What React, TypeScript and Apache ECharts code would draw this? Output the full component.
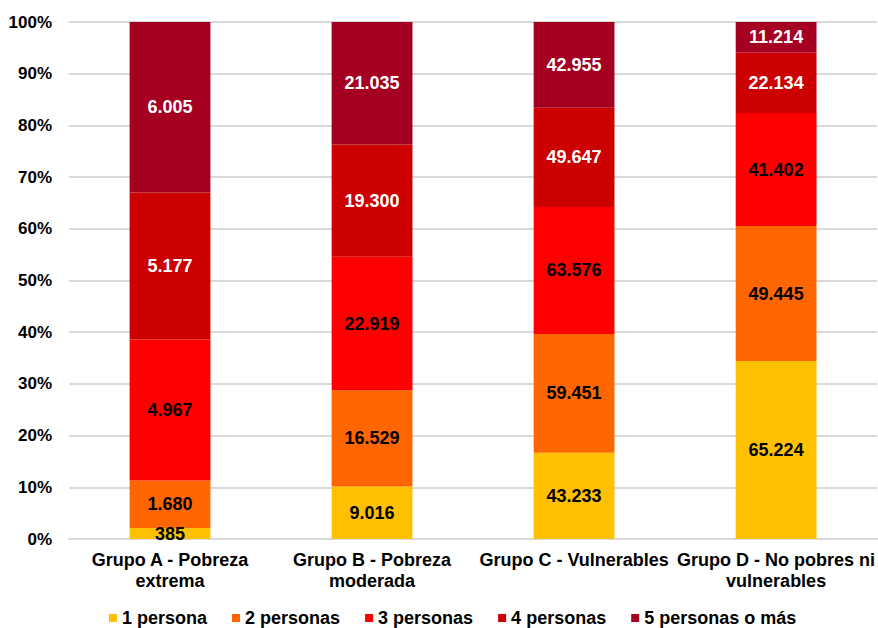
import React, { useEffect, useRef } from "react";
import * as echarts from "echarts";

const categories = [
  "Grupo A - Pobreza\nextrema",
  "Grupo B - Pobreza\nmoderada",
  "Grupo C - Vulnerables",
  "Grupo D - No pobres ni\nvulnerables",
];
const seriesNames = ["1 persona", "2 personas", "3 personas", "4 personas", "5 personas o más"];
const persona1 = [385, 9016, 43233, 65224];
const persona2 = [1680, 16529, 59451, 49445];
const persona3 = [4967, 22919, 63576, 41402];
const persona4 = [5177, 19300, 49647, 22134];
const persona5 = [6005, 21035, 42955, 11214];
const yTicks = [0, 10, 20, 30, 40, 50, 60, 70, 80, 90, 100];

const colors = ["#FFC000", "#FF6600", "#FF0000", "#CC0000", "#A50021"];
const labelColors = ["#000000", "#000000", "#000000", "#FFFFFF", "#FFFFFF"];
const FONT = "'Liberation Sans', Arial, sans-serif";

const fmt = (n: number) => String(n).replace(/\B(?=(\d{3})+(?!\d))/g, ".");

export default function App() {
  const ref = useRef<HTMLDivElement>(null);
  useEffect(() => {
    if (!ref.current) return;
    const chart = echarts.init(ref.current, undefined, { renderer: "svg" });
    const all = [persona1, persona2, persona3, persona4, persona5];
    const totals = categories.map((_, i) => all.reduce((s, arr) => s + arr[i], 0));
    chart.setOption({
      animation: false,
      textStyle: { fontFamily: FONT },
      grid: { left: 69, right: 0, top: 22, bottom: 89, containLabel: false },
      legend: {
        top: 604,
        left: 104,
        itemWidth: 8,
        itemHeight: 8,
        itemGap: 25,
        icon: "rect",
        textStyle: { fontFamily: FONT, fontSize: 18, fontWeight: "bold", color: "#000" },
        data: seriesNames,
      },
      xAxis: {
        type: "category",
        data: categories,
        axisLine: { show: true, lineStyle: { color: "#D9D9D9", width: 2 } },
        axisTick: { show: false },
        axisLabel: {
          fontFamily: FONT,
          fontSize: 18,
          fontWeight: "bold",
          color: "#000",
          lineHeight: 21,
          margin: 10,
          interval: 0,
        },
      },
      yAxis: {
        type: "value",
        min: 0,
        max: 100,
        interval: 10,
        axisLine: { show: false },
        axisTick: { show: false },
        splitLine: { lineStyle: { color: "#D9D9D9", width: 2 } },
        axisLabel: {
          fontFamily: FONT,
          fontSize: 17,
          fontWeight: "bold",
          color: "#000",
          margin: 17,
          formatter: (v: number) => (yTicks.includes(v) ? v + "%" : ""),
        },
      },
      series: all.map((arr, si) => ({
        name: seriesNames[si],
        type: "bar",
        stack: "total",
        barWidth: "40%",
        itemStyle: { color: colors[si] },
        label: {
          show: true,
          position: "inside",
          fontFamily: FONT,
          fontSize: 18,
          fontWeight: "bold",
          color: labelColors[si],
          formatter: (p: any) => fmt(arr[p.dataIndex]),
        },
        data: arr.map((v, i) => (v / totals[i]) * 100),
      })),
    });
    return () => chart.dispose();
  }, []);
  return (
    <div
      ref={ref}
      style={{ position: "absolute", left: 0, top: 0, width: 878, height: 628, background: "#fff" }}
    />
  );
}
